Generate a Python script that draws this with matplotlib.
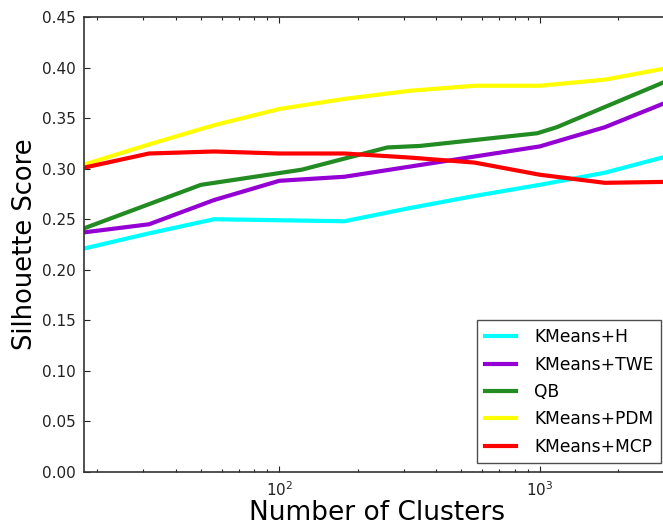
import matplotlib
matplotlib.use("Agg")
import matplotlib.pyplot as plt

# cluster counts (log-spaced) used by the KMeans variants
kmeans_k = [17.8, 31.6, 56.2, 100, 177.8, 316.2, 562.3, 1000, 1778, 3162]
# QuickBundles picks its own number of clusters
qb_k = [17.8, 50, 122, 260, 347, 977, 1162, 1778, 3162]

kmeans_h = [0.221, 0.236, 0.250, 0.249, 0.248, 0.261, 0.273, 0.284, 0.296, 0.313]
kmeans_twe = [0.237, 0.245, 0.269, 0.288, 0.292, 0.302, 0.312, 0.322, 0.341, 0.367]
qb = [0.241, 0.284, 0.299, 0.321, 0.3225, 0.335, 0.341, 0.361, 0.388]
kmeans_pdm = [0.304, 0.324, 0.343, 0.359, 0.369, 0.377, 0.382, 0.382, 0.388, 0.400]
kmeans_mcp = [0.301, 0.315, 0.317, 0.315, 0.315, 0.311, 0.306, 0.294, 0.286, 0.287]

series = [
    ("KMeans+H", kmeans_k, kmeans_h, "cyan"),
    ("KMeans+TWE", kmeans_k, kmeans_twe, "darkviolet"),
    ("QB", qb_k, qb, "forestgreen"),
    ("KMeans+PDM", kmeans_k, kmeans_pdm, "yellow"),
    ("KMeans+MCP", kmeans_k, kmeans_mcp, "red"),
]

plt.rcParams["font.family"] = "DejaVu Sans"

fig = plt.figure(figsize=(6.63, 5.26), dpi=100)
W, H = 663, 526
# axes runs slightly past the right edge of the picture (as in the reference)
ax = fig.add_axes([84 / W, (H - 472) / H, (670 - 84) / W, 455 / H])

for label, xs, ys, color in series:
    ax.plot(xs, ys, color=color, linewidth=3, label=label)

ax.set_xscale("log")
ax.set_xlim(10 ** 1.25, 10 ** 3.5)
ax.set_ylim(0, 0.45)
ax.set_yticks([i * 0.05 for i in range(10)])
ax.set_yticklabels([f"{i * 0.05:.2f}" for i in range(10)])

ax.tick_params(which="both", direction="in", top=True, right=True,
               labelsize=11, colors="#222222", pad=6)
ax.tick_params(which="major", length=4, width=0.8)
ax.tick_params(which="minor", length=2, width=0.8)
for sp in ax.spines.values():
    sp.set_color("#333333")
    sp.set_linewidth(1.2)

ax.set_xlabel("Number of Clusters", fontsize=19, labelpad=1)
ax.set_ylabel("Silhouette Score", fontsize=18.5, labelpad=3)

leg = ax.legend(loc="lower right", fontsize=12.3, fancybox=False,
                handlelength=1.8, handletextpad=1.1, labelspacing=0.55,
                borderpad=0.45, borderaxespad=0.5)
leg.get_frame().set_edgecolor("#222222")
leg.get_frame().set_linewidth(1.0)

fig.savefig("out.png", dpi=100, facecolor="white")
